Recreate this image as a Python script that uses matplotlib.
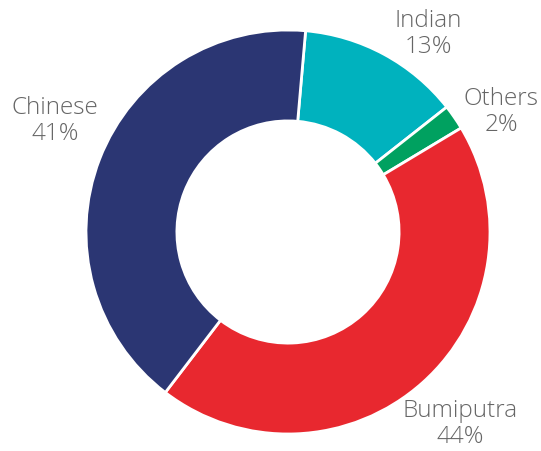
import matplotlib.pyplot as plt

categories = ["Indian", "Others", "Bumiputra", "Chinese"]
values = [13, 2, 44, 41]
colors = ["#00B2BE", "#00A160", "#E8282F", "#2B3673"]
label_pos = {"Indian": (428, 34), "Others": (501, 112), "Bumiputra": (460, 424), "Chinese": (55, 121)}

W, H = 541, 451
fig = plt.figure(figsize=(W / 100, H / 100), dpi=100)
ax = fig.add_axes([0, 0, 1, 1])

cx, cy, r = 288, H - 232, 202
ax.pie(values, colors=colors, startangle=85, counterclock=False,
       center=(cx, cy), radius=r, frame=True,
       wedgeprops=dict(width=r * 0.45, edgecolor='white', linewidth=2))
ax.set_xlim(0, W)
ax.set_ylim(0, H)
ax.set_aspect('equal')
ax.axis('off')

for c, v in zip(categories, values):
    x, y = label_pos[c]
    ax.text(x, H - y, f"{c}\n{v}%", ha='center', va='center', fontsize=17.5,
            color='#666666', family='Open Sans', fontweight='light', linespacing=1.1)

fig.savefig("out.png", dpi=100)
